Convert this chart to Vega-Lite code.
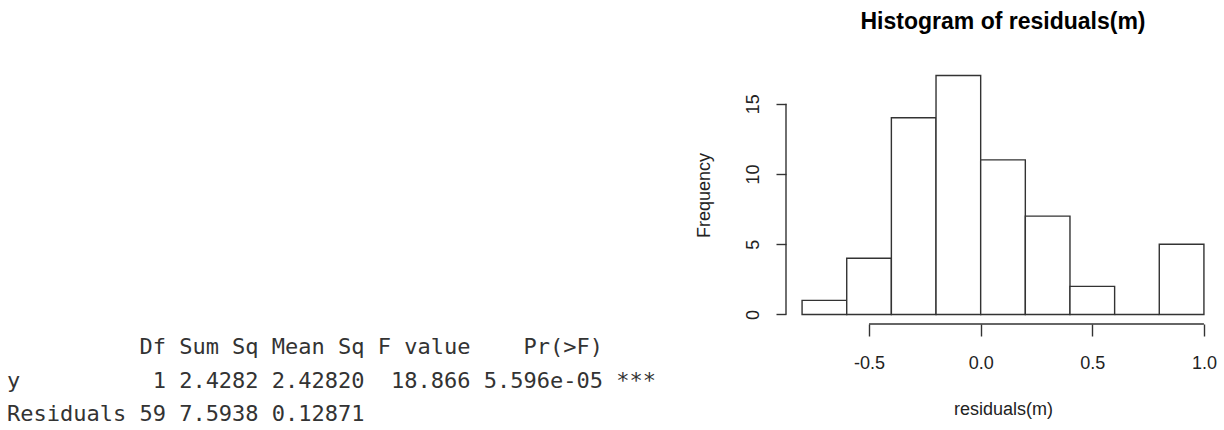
{
  "$schema": "https://vega.github.io/schema/vega-lite/v6.json",
  "padding": {"top": 11, "left": 0, "right": 0, "bottom": 0},
  "background": "white",
  "config": {"view": {"stroke": null}, "font": "Liberation Sans"},
  "bounds": "flush",
  "spacing": 100,
  "resolve": {"scale": {"x": "independent", "y": "independent"}},
  "hconcat": [
    {
      "width": 686,
      "height": 355,
      "data": {"values": [
        {"line": 1, "end": 12, "text": "Df"},
        {"line": 1, "end": 19, "text": "Sum Sq"},
        {"line": 1, "end": 27, "text": "Mean Sq"},
        {"line": 1, "end": 35, "text": "F value"},
        {"line": 1, "end": 45, "text": "Pr(>F)"},
        {"line": 2, "end": 1, "text": "y"},
        {"line": 2, "end": 12, "text": "1"},
        {"line": 2, "end": 19, "text": "2.4282"},
        {"line": 2, "end": 27, "text": "2.42820"},
        {"line": 2, "end": 35, "text": "18.866"},
        {"line": 2, "end": 45, "text": "5.596e-05"},
        {"line": 2, "end": 49, "text": "***"},
        {"line": 3, "end": 9, "text": "Residuals"},
        {"line": 3, "end": 12, "text": "59"},
        {"line": 3, "end": 19, "text": "7.5938"},
        {"line": 3, "end": 27, "text": "0.12871"}
      ]},
      "mark": {"type": "text", "align": "right", "baseline": "alphabetic", "font": "DejaVu Sans Mono", "fontSize": 22, "color": "#333333", "dx": 7},
      "encoding": {
        "x": {"field": "end", "type": "quantitative", "scale": {"domain": [0, 51.8], "nice": false, "zero": false}, "axis": null},
        "y": {"field": "line", "type": "quantitative", "scale": {"domain": [-7.6, 3], "reverse": true, "nice": false, "zero": false}, "axis": null},
        "text": {"field": "text", "type": "nominal"}
      }
    },
    {
      "width": 434,
      "height": 258,
      "title": {"text": "Histogram of residuals(m)", "font": "Liberation Sans", "fontSize": 23, "fontWeight": "bold", "color": "#000000", "offset": 32, "anchor": "middle", "frame": "group"},
      "layer": [
        {
          "data": {"values": [
            {"bin_start": -0.8, "bin_end": -0.6, "count": 1},
            {"bin_start": -0.6, "bin_end": -0.4, "count": 4},
            {"bin_start": -0.4, "bin_end": -0.2, "count": 14},
            {"bin_start": -0.2, "bin_end": 0.0, "count": 17},
            {"bin_start": 0.0, "bin_end": 0.2, "count": 11},
            {"bin_start": 0.2, "bin_end": 0.4, "count": 7},
            {"bin_start": 0.4, "bin_end": 0.6, "count": 2},
            {"bin_start": 0.6, "bin_end": 0.8, "count": 0},
            {"bin_start": 0.8, "bin_end": 1.0, "count": 5}
          ]},
          "mark": {"type": "rect", "fill": "white", "stroke": "#333333", "strokeWidth": 1.4},
          "encoding": {
            "x": {"field": "bin_start", "type": "quantitative",
              "scale": {"domain": [-0.872, 1.072], "nice": false, "zero": false},
              "axis": {"values": [-0.5, 0, 0.5, 1], "domain": false, "grid": false, "tickSize": 12, "tickColor": "#333333", "tickWidth": 1.4,
                "labelExpr": "datum.value < 0 ? '-' + format(-datum.value, '.1f') : format(datum.value, '.1f')",
                "labelFont": "Liberation Sans", "labelFontSize": 18, "labelColor": "#222222", "labelPadding": 18, "labelFlush": false, "labelOverlap": false,
                "title": "residuals(m)", "titleFont": "Liberation Sans", "titleFontSize": 18, "titleFontWeight": "normal", "titleColor": "#222222", "titlePadding": 28}},
            "x2": {"field": "bin_end"},
            "y": {"field": "count", "type": "quantitative",
              "scale": {"domain": [-0.68, 17.68], "nice": false, "zero": false},
              "axis": {"values": [0, 5, 10, 15], "format": "d", "domain": false, "grid": false, "tickSize": 10, "tickColor": "#333333", "tickWidth": 1.4,
                "labelAngle": 270, "labelAlign": "center", "labelBaseline": "bottom",
                "labelFont": "Liberation Sans", "labelFontSize": 18, "labelColor": "#222222", "labelPadding": 14, "labelFlush": false, "labelOverlap": false,
                "title": "Frequency", "titleFont": "Liberation Sans", "titleFontSize": 18, "titleFontWeight": "normal", "titleColor": "#222222", "titlePadding": 31}},
            "y2": {"datum": 0}
          }
        },
        {
          "data": {"values": [{"from": -0.5, "to": 1.0, "at": -0.68}]},
          "mark": {"type": "rule", "stroke": "#333333", "strokeWidth": 1.4},
          "encoding": {
            "x": {"field": "from", "type": "quantitative"},
            "x2": {"field": "to"},
            "y": {"field": "at", "type": "quantitative"}
          }
        },
        {
          "data": {"values": [{"at": -0.872, "from": 0, "to": 15}]},
          "mark": {"type": "rule", "stroke": "#333333", "strokeWidth": 1.4},
          "encoding": {
            "x": {"field": "at", "type": "quantitative"},
            "y": {"field": "from", "type": "quantitative"},
            "y2": {"field": "to"}
          }
        }
      ]
    }
  ]
}
